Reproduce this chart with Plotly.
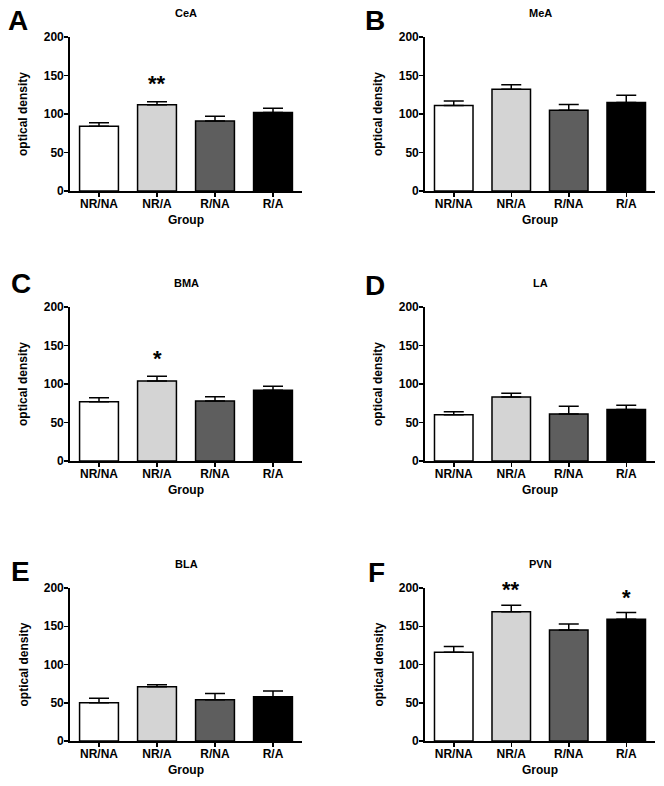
import plotly.graph_objects as go

W, H = 664, 786

categories = ["NR/NA", "NR/A", "R/NA", "R/A"]
bar_colors = ["#ffffff", "#d4d4d4", "#5e5e5e", "#000000"]

panel_letters = ["A", "B", "C", "D", "E", "F"]
panel_titles = ["CeA", "MeA", "BMA", "LA", "BLA", "PVN"]

cea_mean = [84, 112, 91, 102]
cea_sem = [4.5, 4, 6, 5.5]
mea_mean = [111, 132, 105, 115]
mea_sem = [6, 6, 7.5, 9.5]
bma_mean = [77, 104, 78, 92]
bma_sem = [5, 6, 5.5, 5]
la_mean = [60, 83, 61, 67]
la_sem = [4, 5, 10, 5.5]
bla_mean = [50, 71, 54, 58]
bla_sem = [6, 2.5, 8, 7.5]
pvn_mean = [116, 169, 145, 159]
pvn_sem = [7.5, 8.5, 8, 9]

means = [cea_mean, mea_mean, bma_mean, la_mean, bla_mean, pvn_mean]
sems = [cea_sem, mea_sem, bma_sem, la_sem, bla_sem, pvn_sem]

# significance stars: (panel index, category, text, y glyph position)
stars = [(0, "NR/A", "**", 146), (2, "NR/A", "*", 139),
         (5, "NR/A", "**", 204), (5, "R/A", "*", 193)]

# layout in pixels
cols = [(70, 302), (425, 655)]
rows = [(37, 191), (307, 461), (588, 741)]
letter_pos = [(18, 20), (375, 20), (21, 283), (375, 285), (20, 571), (377, 572)]

FONT = "Liberation Sans"

def px(x, y):
    return x / W, 1 - y / H

fig = go.Figure()
annotations = []

for i in range(6):
    r, c = divmod(i, 2)
    x0, x1 = cols[c]
    y0, y1 = rows[r]
    xa = "x" if i == 0 else f"x{i+1}"
    ya = "y" if i == 0 else f"y{i+1}"
    fig.add_trace(go.Bar(
        x=categories, y=means[i], xaxis=xa, yaxis=ya,
        width=0.67,
        marker=dict(color=bar_colors, line=dict(color="black", width=1.5)),
        error_y=dict(type="data", symmetric=False, array=sems[i],
                     arrayminus=[0] * 4, color="black", thickness=1.5, width=10),
        showlegend=False, hoverinfo="skip",
    ))
    axis_common = dict(showline=True, linecolor="black", linewidth=1.8,
                       ticks="outside", ticklen=4, tickwidth=1.5, tickcolor="black",
                       showgrid=False, zeroline=False, automargin=False,
                       tickfont=dict(family=FONT, size=12, color="black", weight="bold"))
    fig.update_layout(**{
        ("xaxis" if i == 0 else f"xaxis{i+1}"): dict(
            domain=[x0 / W, x1 / W], anchor=ya, range=[-0.5, 3.5],
            type="category", fixedrange=True, ticklabelstandoff=-3, **axis_common),
        ("yaxis" if i == 0 else f"yaxis{i+1}"): dict(
            domain=[1 - y1 / H, 1 - y0 / H], anchor=xa, range=[0, 200],
            tickvals=[0, 50, 100, 150, 200], fixedrange=True,
            ticklabelstandoff=-2, **axis_common),
    })
    lx, ly = px(*letter_pos[i])
    annotations.append(dict(text=f"<b>{panel_letters[i]}</b>", x=lx, y=ly,
                            xref="paper", yref="paper", showarrow=False,
                            xanchor="center", yanchor="middle",
                            font=dict(family=FONT, size=28, color="black")))
    tx, ty = px((x0 + x1) / 2, y0 - 24)
    annotations.append(dict(text=f"<b>{panel_titles[i]}</b>", x=tx, y=ty,
                            xref="paper", yref="paper", showarrow=False,
                            xanchor="center", yanchor="middle",
                            font=dict(family=FONT, size=11, color="black")))
    gx, gy = px((x0 + x1) / 2, y1 + 29)
    annotations.append(dict(text="<b>Group</b>", x=gx, y=gy,
                            xref="paper", yref="paper", showarrow=False,
                            xanchor="center", yanchor="middle",
                            font=dict(family=FONT, size=12, color="black")))
    ox, oy = px(x0 - 47, (y0 + y1) / 2)
    annotations.append(dict(text="<b>optical density</b>", x=ox, y=oy,
                            xref="paper", yref="paper", showarrow=False,
                            textangle=-90, xanchor="center", yanchor="middle",
                            font=dict(family=FONT, size=12, color="black")))

for (i, cat, txt, yv) in stars:
    xa = "x" if i == 0 else f"x{i+1}"
    ya = "y" if i == 0 else f"y{i+1}"
    annotations.append(dict(text=f"<b>{txt}</b>", x=cat, y=yv - 6, xref=xa, yref=ya,
                            showarrow=False, xanchor="center", yanchor="middle",
                            font=dict(family=FONT, size=22, color="black")))

fig.update_layout(template="none", width=W, height=H,
                  margin=dict(l=0, r=0, t=0, b=0, pad=0),
                  paper_bgcolor="white", plot_bgcolor="white",
                  annotations=annotations, bargap=0.33, showlegend=False,
                  font=dict(family=FONT, color="black"))

post = (
    "var d=document.getElementById('{plot_id}');"
    "document.documentElement.style.margin='0';"
    "document.documentElement.style.overflow='hidden';"
    "document.documentElement.style.height='786px';"
    "document.body.style.margin='0';document.body.style.padding='0';"
    "document.body.style.overflow='hidden';document.body.style.height='786px';"
    "d.style.position='absolute';d.style.top='0px';d.style.left='0px';"
)

fig.write_html("out.html", config={"displayModeBar": False, "staticPlot": True},
               post_script=post)
